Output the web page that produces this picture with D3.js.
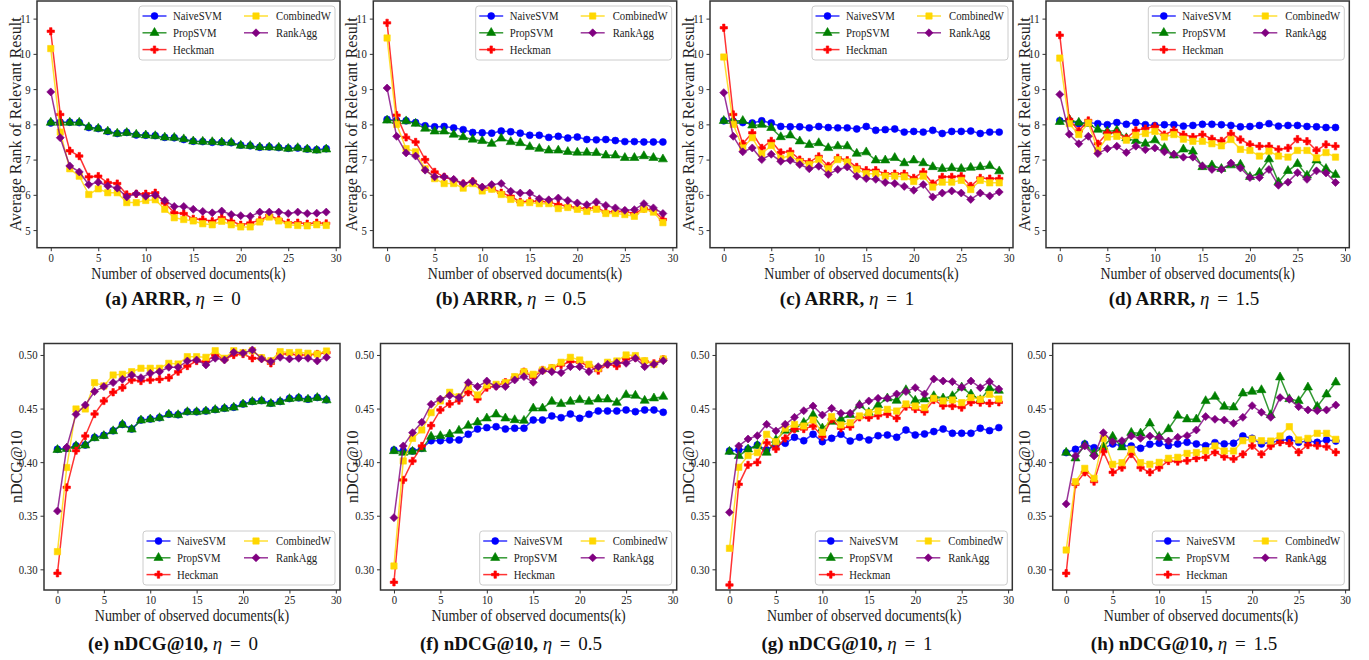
<!DOCTYPE html>
<html lang="en">
<head>
<meta charset="UTF-8" />
<title>ARRR and nDCG@10</title>
<style>
  html, body {
    margin: 0;
    padding: 0;
    background: #fff;
    overflow: hidden;
  }
  svg {
    font-family: "Liberation Serif", "Times New Roman", serif;
  }
  .tick text {
    font-size: 12.5px;
    fill: #222;
  }
  .tick line {
    stroke: #333;
  }
  .axis-label {
    fill: #222;
  }
  .legend text {
    font-size: 12.5px;
    fill: #222;
  }
  .caption {
    font-size: 19px;
    fill: #111;
  }
</style>
</head>
<body>
<svg id="chart" width="1369" height="660"></svg>

<script src="https://d3js.org/d3.v7.min.js"></script>
<script>
// ---------- data ----------
const ks = d3.range(30);
const xTicks = [0, 5, 10, 15, 20, 25, 30];
const arrrTicks = [5, 6, 7, 8, 9, 10, 11];
const ndcgTicks = [0.30, 0.35, 0.40, 0.45, 0.50];
const seriesNames = ["NaiveSVM", "PropSVM", "Heckman", "CombinedW", "RankAgg"];
const seriesColors = ["#0000ff", "#008000", "#ff0000", "#ffd700", "#800080"];
const etas = ["0", "0.5", "1", "1.5"];

// ARRR, eta = 0
const arrr_eta0 = {
  NaiveSVM:  [8.04,8.06,8.06,8.05,7.91,7.88,7.80,7.74,7.77,7.70,7.69,7.68,7.63,7.62,7.57,7.52,7.51,7.49,7.49,7.48,7.41,7.39,7.35,7.36,7.34,7.32,7.33,7.30,7.28,7.31],
  PropSVM:   [8.05,8.05,8.05,8.05,7.92,7.88,7.80,7.74,7.76,7.71,7.69,7.67,7.63,7.62,7.58,7.52,7.51,7.50,7.49,7.48,7.40,7.39,7.35,7.35,7.34,7.31,7.33,7.29,7.26,7.29],
  Heckman:   [10.64,8.28,7.25,7.10,6.51,6.53,6.35,6.32,6.01,6.03,6.03,6.06,5.77,5.49,5.47,5.32,5.30,5.25,5.35,5.25,5.15,5.20,5.28,5.42,5.30,5.21,5.21,5.18,5.21,5.19],
  CombinedW: [10.15,7.78,6.74,6.53,6.01,6.17,6.06,6.06,5.78,5.78,5.84,5.86,5.59,5.35,5.30,5.26,5.18,5.15,5.25,5.15,5.09,5.09,5.23,5.37,5.26,5.15,5.13,5.12,5.15,5.13],
  RankAgg:   [8.92,7.62,6.82,6.65,6.29,6.36,6.25,6.19,5.94,6.03,5.96,5.99,5.84,5.67,5.67,5.59,5.53,5.49,5.54,5.44,5.41,5.39,5.51,5.51,5.51,5.47,5.51,5.47,5.48,5.51]
};

// ARRR, eta = 0.5
const arrr_eta05 = {
  NaiveSVM:  [8.14,8.11,8.10,8.05,7.96,7.93,7.94,7.90,7.85,7.77,7.76,7.75,7.81,7.79,7.75,7.69,7.69,7.63,7.66,7.61,7.64,7.57,7.56,7.57,7.54,7.51,7.51,7.50,7.50,7.50],
  PropSVM:   [8.11,8.10,8.09,8.02,7.88,7.80,7.80,7.71,7.64,7.57,7.53,7.45,7.60,7.50,7.47,7.36,7.31,7.26,7.26,7.22,7.20,7.20,7.19,7.12,7.12,7.05,7.05,7.10,7.05,7.01],
  Heckman:   [10.88,8.26,7.63,7.50,7.00,6.65,6.51,6.41,6.32,6.38,6.20,6.19,6.06,5.96,5.80,5.82,5.82,5.80,5.72,5.68,5.63,5.61,5.64,5.51,5.53,5.53,5.47,5.61,5.56,5.30],
  CombinedW: [10.45,8.00,7.31,7.22,6.74,6.46,6.32,6.32,6.19,6.32,6.11,6.16,6.01,5.87,5.77,5.78,5.75,5.75,5.61,5.64,5.59,5.53,5.59,5.47,5.47,5.44,5.39,5.59,5.51,5.21],
  RankAgg:   [9.03,7.66,7.19,7.10,6.70,6.51,6.51,6.44,6.32,6.38,6.22,6.29,6.32,6.10,6.05,6.05,5.89,5.86,5.91,5.84,5.77,5.72,5.80,5.70,5.63,5.56,5.58,5.75,5.63,5.47]
};

// ARRR, eta = 1
const arrr_eta1 = {
  NaiveSVM:  [8.10,8.09,8.05,8.04,8.10,8.04,7.94,7.93,7.93,7.90,7.94,7.91,7.90,7.90,7.87,7.94,7.83,7.85,7.87,7.78,7.80,7.78,7.83,7.74,7.80,7.80,7.81,7.74,7.78,7.78],
  PropSVM:   [8.10,8.10,8.10,7.97,7.99,7.90,7.64,7.69,7.52,7.42,7.47,7.33,7.38,7.38,7.17,7.21,6.98,6.98,7.05,6.90,6.98,6.90,6.79,6.74,6.76,6.74,6.77,6.79,6.82,6.67],
  Heckman:   [10.74,8.28,7.45,7.76,7.33,7.53,7.20,7.23,7.00,6.93,7.09,6.82,7.05,6.98,6.79,6.70,6.70,6.60,6.60,6.60,6.48,6.65,6.32,6.51,6.51,6.53,6.25,6.48,6.46,6.46],
  CombinedW: [9.91,8.00,7.33,7.62,7.17,7.40,7.03,7.12,6.93,6.86,7.00,6.74,7.00,6.93,6.72,6.60,6.60,6.53,6.53,6.51,6.38,6.53,6.22,6.36,6.36,6.41,6.15,6.41,6.34,6.34],
  RankAgg:   [8.90,7.66,7.22,7.33,7.00,7.15,6.95,6.98,6.86,6.74,6.81,6.58,6.72,6.79,6.53,6.46,6.44,6.35,6.32,6.24,6.13,6.29,5.94,6.05,6.11,6.05,5.87,6.05,5.97,6.08]
};

// ARRR, eta = 1.5
const arrr_eta15 = {
  NaiveSVM:  [8.10,8.10,8.02,8.05,8.02,7.99,8.05,8.00,8.05,7.99,7.97,7.99,7.99,7.95,7.97,8.00,8.00,7.99,7.97,7.93,7.94,7.97,8.02,7.95,7.97,7.97,7.94,7.93,7.91,7.91],
  PropSVM:   [8.07,8.14,8.05,8.02,7.85,7.80,7.83,7.61,7.53,7.45,7.55,7.33,7.12,7.29,7.23,6.79,6.84,6.74,6.84,6.86,6.51,6.63,7.01,6.36,6.68,6.88,6.55,6.98,6.74,6.57],
  Heckman:   [10.53,8.14,7.81,8.11,7.45,7.76,7.76,7.61,7.83,7.88,7.94,7.71,7.83,7.71,7.64,7.71,7.59,7.53,7.74,7.57,7.43,7.38,7.38,7.29,7.33,7.58,7.52,7.26,7.43,7.38],
  CombinedW: [9.88,8.02,7.71,8.04,7.26,7.64,7.66,7.55,7.69,7.74,7.80,7.64,7.71,7.58,7.52,7.52,7.45,7.39,7.57,7.29,7.26,7.10,7.24,7.10,7.07,7.26,7.26,7.05,7.20,7.07],
  RankAgg:   [8.85,7.72,7.45,7.66,7.17,7.31,7.38,7.20,7.38,7.28,7.33,7.22,7.15,7.07,7.07,6.82,6.72,6.72,6.90,6.76,6.49,6.49,6.72,6.27,6.36,6.63,6.44,6.68,6.62,6.35]
};

// nDCG@10, eta = 0
const ndcg_eta0 = {
  NaiveSVM:  [0.4120,0.4128,0.4153,0.4160,0.4230,0.4250,0.4293,0.4352,0.4310,0.4393,0.4402,0.4415,0.4447,0.4443,0.4471,0.4470,0.4478,0.4490,0.4503,0.4512,0.4543,0.4566,0.4574,0.4549,0.4566,0.4593,0.4600,0.4587,0.4603,0.4581],
  PropSVM:   [0.4115,0.4125,0.4150,0.4157,0.4225,0.4245,0.4290,0.4350,0.4305,0.4390,0.4400,0.4412,0.4445,0.4440,0.4468,0.4468,0.4475,0.4488,0.4500,0.4510,0.4540,0.4563,0.4570,0.4545,0.4563,0.4590,0.4597,0.4585,0.4600,0.4578],
  Heckman:   [0.2963,0.3765,0.4107,0.4244,0.4449,0.4571,0.4652,0.4695,0.4767,0.4757,0.4767,0.4773,0.4788,0.4844,0.4897,0.4944,0.4938,0.5000,0.4960,0.5000,0.5009,0.4969,0.4969,0.4922,0.5009,0.5009,0.5000,0.5000,0.5009,0.5022],
  CombinedW: [0.3165,0.3950,0.4496,0.4496,0.4742,0.4711,0.4813,0.4820,0.4844,0.4876,0.4876,0.4876,0.4922,0.4916,0.4984,0.4984,0.4978,0.5040,0.4969,0.5040,0.5022,0.5040,0.4975,0.4947,0.5031,0.5022,0.5025,0.5016,0.5009,0.5037],
  RankAgg:   [0.3544,0.4138,0.4446,0.4533,0.4658,0.4705,0.4742,0.4773,0.4813,0.4788,0.4829,0.4844,0.4885,0.4885,0.4944,0.4953,0.4907,0.4969,0.4953,0.5025,0.5016,0.5047,0.4963,0.4938,0.4978,0.4963,0.4969,0.4969,0.4944,0.4978]
};

// nDCG@10, eta = 0.5
const ndcg_eta05 = {
  NaiveSVM:  [0.4114,0.4104,0.4104,0.4129,0.4200,0.4200,0.4207,0.4207,0.4260,0.4309,0.4322,0.4331,0.4309,0.4316,0.4316,0.4393,0.4393,0.4431,0.4415,0.4449,0.4409,0.4446,0.4477,0.4477,0.4477,0.4487,0.4471,0.4487,0.4487,0.4465],
  PropSVM:   [0.4104,0.4089,0.4098,0.4123,0.4238,0.4244,0.4260,0.4294,0.4341,0.4372,0.4409,0.4446,0.4409,0.4393,0.4387,0.4502,0.4502,0.4565,0.4543,0.4565,0.4580,0.4565,0.4586,0.4586,0.4555,0.4627,0.4621,0.4574,0.4596,0.4611],
  Heckman:   [0.2879,0.3834,0.4011,0.4151,0.4341,0.4487,0.4543,0.4574,0.4652,0.4589,0.4695,0.4711,0.4745,0.4788,0.4844,0.4792,0.4860,0.4876,0.4907,0.4938,0.4932,0.4897,0.4854,0.4913,0.4897,0.4963,0.4975,0.4938,0.4922,0.4960],
  CombinedW: [0.3031,0.4011,0.4222,0.4300,0.4462,0.4571,0.4652,0.4611,0.4705,0.4627,0.4720,0.4726,0.4742,0.4798,0.4844,0.4820,0.4860,0.4882,0.4932,0.4978,0.4953,0.4913,0.4876,0.4932,0.4944,0.5000,0.4994,0.4947,0.4913,0.4963],
  RankAgg:   [0.3482,0.4151,0.4275,0.4372,0.4540,0.4589,0.4621,0.4602,0.4742,0.4705,0.4757,0.4705,0.4705,0.4767,0.4798,0.4745,0.4851,0.4844,0.4835,0.4891,0.4891,0.4844,0.4891,0.4913,0.4928,0.4922,0.4969,0.4891,0.4913,0.4947]
};

// nDCG@10, eta = 1
const ndcg_eta1 = {
  NaiveSVM:  [0.4104,0.4114,0.4123,0.4160,0.4114,0.4160,0.4176,0.4232,0.4200,0.4260,0.4191,0.4222,0.4260,0.4197,0.4232,0.4207,0.4247,0.4253,0.4232,0.4300,0.4253,0.4263,0.4285,0.4309,0.4269,0.4269,0.4269,0.4316,0.4294,0.4322],
  PropSVM:   [0.4098,0.4058,0.4120,0.4154,0.4089,0.4207,0.4294,0.4309,0.4368,0.4440,0.4316,0.4378,0.4400,0.4440,0.4533,0.4462,0.4533,0.4596,0.4574,0.4673,0.4574,0.4586,0.4617,0.4596,0.4617,0.4698,0.4633,0.4580,0.4689,0.4667],
  Heckman:   [0.2854,0.3793,0.3974,0.3998,0.4182,0.4123,0.4222,0.4309,0.4309,0.4337,0.4238,0.4400,0.4316,0.4331,0.4418,0.4415,0.4434,0.4449,0.4409,0.4518,0.4496,0.4471,0.4580,0.4527,0.4524,0.4509,0.4558,0.4555,0.4549,0.4558],
  CombinedW: [0.3196,0.3952,0.4061,0.4089,0.4260,0.4191,0.4316,0.4353,0.4337,0.4393,0.4278,0.4425,0.4347,0.4368,0.4431,0.4462,0.4477,0.4493,0.4477,0.4543,0.4524,0.4509,0.4596,0.4571,0.4580,0.4555,0.4602,0.4586,0.4633,0.4589],
  RankAgg:   [0.3532,0.4151,0.4216,0.4247,0.4353,0.4291,0.4353,0.4418,0.4480,0.4524,0.4440,0.4502,0.4456,0.4456,0.4533,0.4571,0.4596,0.4596,0.4636,0.4658,0.4695,0.4636,0.4776,0.4757,0.4751,0.4698,0.4757,0.4695,0.4751,0.4683]
};

// nDCG@10, eta = 1.5
const ndcg_eta15 = {
  NaiveSVM:  [0.4089,0.4120,0.4170,0.4135,0.4129,0.4170,0.4154,0.4151,0.4129,0.4166,0.4176,0.4154,0.4170,0.4185,0.4170,0.4154,0.4182,0.4170,0.4176,0.4244,0.4222,0.4170,0.4185,0.4200,0.4213,0.4185,0.4197,0.4185,0.4207,0.4197],
  PropSVM:   [0.4089,0.4036,0.4160,0.4082,0.4145,0.4238,0.4139,0.4275,0.4269,0.4362,0.4238,0.4309,0.4434,0.4400,0.4400,0.4571,0.4611,0.4518,0.4512,0.4642,0.4658,0.4673,0.4440,0.4792,0.4589,0.4571,0.4698,0.4518,0.4633,0.4745],
  Heckman:   [0.2963,0.3793,0.3905,0.3818,0.4098,0.3905,0.3949,0.4076,0.3949,0.3905,0.3949,0.4011,0.4005,0.4014,0.4036,0.4045,0.4092,0.4051,0.4030,0.4073,0.4154,0.4073,0.4151,0.4185,0.4176,0.4092,0.4160,0.4154,0.4145,0.4092],
  CombinedW: [0.3180,0.3818,0.3942,0.3849,0.4222,0.3980,0.3995,0.4120,0.3995,0.3980,0.3998,0.4036,0.4045,0.4082,0.4089,0.4107,0.4151,0.4104,0.4104,0.4200,0.4216,0.4200,0.4197,0.4244,0.4331,0.4207,0.4222,0.4269,0.4269,0.4213],
  RankAgg:   [0.3610,0.4058,0.4151,0.4058,0.4275,0.4191,0.4200,0.4244,0.4222,0.4244,0.4229,0.4197,0.4232,0.4247,0.4300,0.4425,0.4400,0.4393,0.4362,0.4418,0.4527,0.4465,0.4418,0.4602,0.4586,0.4518,0.4487,0.4480,0.4487,0.4533]
};

// ---------- layout ----------
const svg = d3.select("#chart");

const topFrames = [[37, 340], [373.3, 676.7], [710, 1013], [1046, 1349.3]];
const bottomFrames = [[44, 340], [380.5, 676.7], [716, 1012.3], [1052.7, 1349.3]];
const captionX = [173, 511, 847, 1184];
const squeeze = 0.86;   // the original figure is a bit narrower than tall

const panels = [];
[arrr_eta0, arrr_eta05, arrr_eta1, arrr_eta15].forEach((data, i) => {
  panels.push({
    data, letter: "abcd"[i], metric: "ARRR", eta: etas[i],
    x0: topFrames[i][0], x1: topFrames[i][1], y0: 1, y1: 247.7,
    yDomain: [4.5, 11.5], yTicks: arrrTicks, yFmt: d3.format("d"),
    yLabel: "Average Rank of Relevant Result", yLabelOff: 22,
    legendTop: true, captionY: 305
  });
});
[ndcg_eta0, ndcg_eta05, ndcg_eta1, ndcg_eta15].forEach((data, i) => {
  panels.push({
    data, letter: "efgh"[i], metric: "nDCG@10", eta: etas[i],
    x0: bottomFrames[i][0], x1: bottomFrames[i][1], y0: 343.5, y1: 590,
    yDomain: [0.2807, 0.5107], yTicks: ndcgTicks, yFmt: d3.format(".2f"),
    yLabel: "nDCG@10", yLabelOff: 28,
    legendTop: false, captionY: 650
  });
});

// marker shapes in legend order
const symbolTypes = [d3.symbolCircle, d3.symbolTriangle, d3.symbolCross, d3.symbolSquare, d3.symbolSquare];
const symbolSizes = [38, 36, 30, 40, 32];
const symbolRotate = [0, 0, 0, 0, 45];

function drawMarker(sel, i) {
  sel.append("path")
    .attr("d", d3.symbol().type(symbolTypes[i]).size(symbolSizes[i])())
    .attr("fill", seriesColors[i])
    .attr("stroke", seriesColors[i])
    .attr("stroke-width", 0.6);
}

panels.forEach(p => {
  const g = svg.append("g");

  const x = d3.scaleLinear().domain([-1.45, 30.45]).range([p.x0, p.x1]);
  const y = d3.scaleLinear().domain(p.yDomain).range([p.y1, p.y0]);

  // axes
  const xAxis = g.append("g")
    .attr("transform", `translate(0,${p.y1})`)
    .call(d3.axisBottom(x).tickValues(xTicks).tickSize(3.5).tickPadding(1.5));
  xAxis.select(".domain").remove();

  const yAxis = g.append("g")
    .attr("transform", `translate(${p.x0},0)`)
    .call(d3.axisLeft(y).tickValues(p.yTicks).tickFormat(p.yFmt).tickSize(3.5).tickPadding(3));
  yAxis.select(".domain").remove();

  // let the CSS serif font apply to tick labels, narrowed like the original
  [xAxis, yAxis].forEach(a => {
    a.attr("font-family", null).attr("font-size", null);
    a.selectAll(".tick text").attr("transform", `scale(${squeeze},1)`);
  });
  yAxis.selectAll(".tick text").attr("x", -6.5 / squeeze);

  // series
  const line = d3.line().x((d, j) => x(ks[j])).y(d => y(d));
  seriesNames.forEach((name, i) => {
    const vals = p.data[name];
    g.append("path")
      .datum(vals)
      .attr("fill", "none")
      .attr("stroke", seriesColors[i])
      .attr("stroke-opacity", 0.8)
      .attr("stroke-width", 1.5)
      .attr("d", line);
    g.selectAll(null)
      .data(vals)
      .join("g")
      .attr("transform", (d, j) => `translate(${x(ks[j])},${y(d)}) rotate(${symbolRotate[i]})`)
      .each(function() { drawMarker(d3.select(this), i); });
  });

  // frame
  g.append("rect")
    .attr("x", p.x0).attr("y", p.y0)
    .attr("width", p.x1 - p.x0).attr("height", p.y1 - p.y0)
    .attr("fill", "none")
    .attr("stroke", "#333")
    .attr("stroke-width", 1.5);

  // legend
  const lw = p.legendTop ? 196 : 192;
  const lh = 54;
  const lx = p.x1 - 5 - lw;
  const ly = p.legendTop ? p.y0 + 5 : p.y1 - 5 - lh;
  const legend = g.append("g").attr("class", "legend").attr("transform", `translate(${lx},${ly})`);
  legend.append("rect")
    .attr("width", lw).attr("height", lh)
    .attr("rx", 3)
    .attr("fill", "#fff").attr("fill-opacity", 0.85)
    .attr("stroke", "#cccccc").attr("stroke-width", 1);
  seriesNames.forEach((name, i) => {
    const col = i < 3 ? 0 : 1;
    const row = i < 3 ? i : i - 3;
    const hx = col === 0 ? 3.5 : lw - 91;
    const hy = 10 + row * 16.8;
    const item = legend.append("g").attr("transform", `translate(${hx},${hy})`);
    item.append("line")
      .attr("x1", 0).attr("x2", 24)
      .attr("stroke", seriesColors[i]).attr("stroke-opacity", 0.8).attr("stroke-width", 1.5);
    item.append("g")
      .attr("transform", `translate(12,0) rotate(${symbolRotate[i]})`)
      .call(s => drawMarker(s, i));
    item.append("text")
      .attr("transform", `translate(${col === 0 ? 30.5 : 32},0) scale(${squeeze},1)`)
      .attr("dy", "0.35em")
      .text(name);
  });

  // axis labels
  g.append("text")
    .attr("class", "axis-label")
    .attr("transform", `translate(${(p.x0 + p.x1) / 2},${p.y1 + 31}) scale(0.87,1)`)
    .attr("text-anchor", "middle")
    .style("font-size", "16px")
    .text("Number of observed documents(k)");

  g.append("text")
    .attr("class", "axis-label")
    .attr("transform", `translate(${p.x0 - p.yLabelOff},${(p.y0 + p.y1) / 2}) rotate(-90)`)
    .attr("text-anchor", "middle")
    .attr("dy", "0.35em")
    .style("font-size", "16px")
    .text(p.yLabel);
});

// captions
panels.forEach((p, i) => {
  const t = svg.append("text")
    .attr("class", "caption")
    .attr("x", captionX[i % 4])
    .attr("y", p.captionY)
    .attr("text-anchor", "middle");
  t.append("tspan").attr("font-weight", "bold").text(`(${p.letter}) ${p.metric},`);
  t.append("tspan").attr("font-style", "italic").text(" \u03b7");
  t.append("tspan").attr("word-spacing", "3px").text(` = ${p.eta}`);
});
</script>
</body>
</html>
